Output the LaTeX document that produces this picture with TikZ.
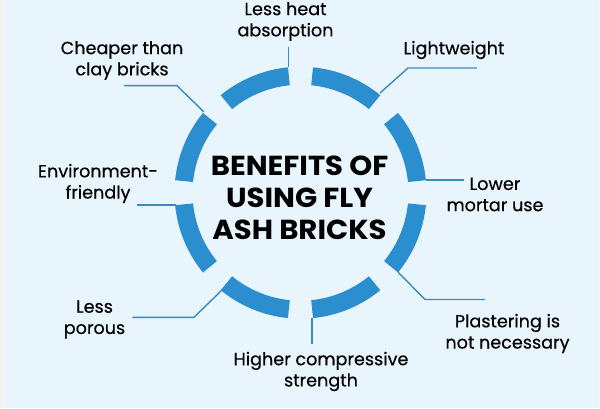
\documentclass[tikz,border=0pt]{standalone}
\usepackage{fontspec}
\setmainfont{Poppins}[FakeBold=0.35]
\newfontfamily\titlefont[FakeStretch=1.06]{Poppins}
\usetikzlibrary{calc}
\definecolor{bgblue}{HTML}{E8F5FD}
\definecolor{ringblue}{HTML}{2B8ECF}
\definecolor{lineblue}{HTML}{3A8ABB}
\definecolor{stripc}{HTML}{F4F4F4}
\tikzset{
  lab/.style={align=center,inner sep=0pt,font=\fontsize{17.6}{21.2}\selectfont,text=black},
  title/.style={align=center,inner sep=0pt,font=\titlefont\fontsize{27.5}{32}\selectfont\bfseries,text=black},
  conn/.style={draw=lineblue,line width=1.4pt,line join=miter},
}
\newcommand{\ringseg}[1]{%
  \fill[ringblue] ($(c)+(#1-16.8:126pt)$) arc[start angle=#1-16.8,end angle=#1+16.8,radius=126pt]
    -- ($(c)+(#1+16.8:108pt)$) arc[start angle=#1+16.8,end angle=#1-16.8,radius=108pt] -- cycle;}
\begin{document}
\begin{tikzpicture}[x=1pt,y=1pt]
\useasboundingbox (0,0) rectangle (600,408);
\fill[stripc] (0,0) rectangle (600,408);
\fill[bgblue] (5,0) rectangle (598,408);
\coordinate (c) at (300.5,215.3);
\foreach \a in {22.5,67.5,...,337.5}{\ringseg{\a}}

\node[title] (t) at (299.5,210.5) {BENEFITS OF\\USING FLY\\ASH BRICKS};
\node[lab] (heat) at (285.5,386.5) {Less heat\\absorption};
\node[lab] (light) at (454,358) {Lightweight};
\node[lab] (mortar) at (495,213.5) {Lower\\mortar use};
\node[lab] (plaster) at (507.5,74.5) {Plastering is\\not necessary};
\node[lab] (comp) at (321,36.5) {Higher compressive\\strength};
\node[lab] (porous) at (94.5,88.5) {Less\\porous};
\node[lab] (env) at (98,224.5) {Environment-\\friendly};
\node[lab] (cheap) at (122,347.5) {Cheaper than\\clay bricks};

\coordinate (a1) at (288.3,361); \coordinate (a2) at (288.3,341);
\coordinate (b1) at (380,315); \coordinate (b2) at (408,340); \coordinate (b3) at (477,340);
\coordinate (d1) at (426,228); \coordinate (d2) at (464,228);
\coordinate (e1) at (398,136); \coordinate (e2) at (425,108.5); \coordinate (e3) at (485,108.5);
\coordinate (f1) at (312,90); \coordinate (f2) at (312,64);
\coordinate (g1) at (222,118); \coordinate (g2) at (194,90.7); \coordinate (g3) at (132.3,90.7);
\coordinate (h1) at (176,203); \coordinate (h2) at (137.3,203);
\coordinate (i1) at (204,296); \coordinate (i2) at (177,322.3); \coordinate (i3) at (124,322.3);

\draw[conn] (a1) -- (a2);
\draw[conn] (b1) -- (b2) -- (b3);
\draw[conn] (d1) -- (d2);
\draw[conn] (e1) -- (e2) -- (e3);
\draw[conn] (f1) -- (f2);
\draw[conn] (g1) -- (g2) -- (g3);
\draw[conn] (h1) -- (h2);
\draw[conn] (i1) -- (i2) -- (i3);
\end{tikzpicture}
\end{document}
